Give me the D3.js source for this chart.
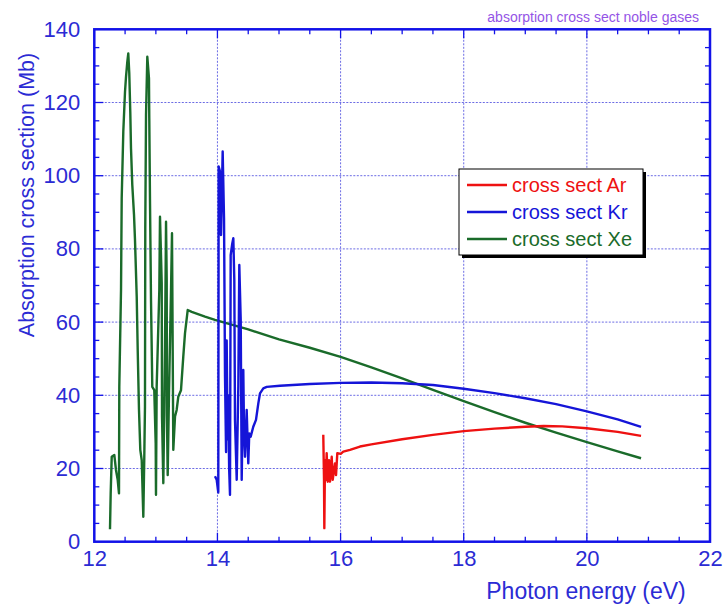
<!DOCTYPE html>
<html>
<head>
<meta charset="utf-8">
<script src="https://cdn.jsdelivr.net/npm/d3@7/dist/d3.min.js"></script>
<style>
  html, body { margin: 0; padding: 0; background: #ffffff; }
  svg { display: block; }
  text { font-family: "Liberation Sans", Arial, Helvetica, sans-serif; }
</style>
</head>
<body>
<svg id="chart" width="724" height="605"></svg>
<script>
// Photoabsorption cross sections of the noble gases (energy in eV, cross section in Mb)
const arEnergy = [15.719, 15.731, 15.736, 15.747, 15.763, 15.774, 15.791, 15.812, 15.828, 15.856,
  15.872, 15.909, 15.926, 15.947, 16.002, 16.044, 16.153, 16.315, 16.5, 17.0, 17.5, 18.0, 18.5,
  19.0, 19.3, 19.6, 20.0, 20.5, 20.88];
const arSigma = [29.2, 16.9, 3.7, 22.3, 16.9, 24.2, 16.4, 22.3, 16.4, 23.2,
  16.9, 21.4, 18.2, 24.2, 24.0, 24.6, 25.1, 26.0, 26.6, 28.0, 29.2, 30.2, 30.9,
  31.4, 31.6, 31.5, 31.0, 30.0, 28.9];

const krEnergy = [13.960, 13.988, 14.014, 14.020, 14.042, 14.058, 14.085, 14.107, 14.123, 14.140,
  14.150, 14.165, 14.176, 14.190, 14.204, 14.215, 14.241, 14.258, 14.274, 14.285, 14.313, 14.339,
  14.355, 14.378, 14.394, 14.420, 14.432, 14.448, 14.475, 14.501, 14.517, 14.540, 14.582, 14.626,
  14.664, 14.691, 14.745, 14.800, 15.016, 15.5, 16.0, 16.5, 17.0, 17.5, 18.0, 18.5, 19.0, 19.5,
  20.0, 20.5, 20.88];
const krSigma = [17.9, 16.9, 13.4, 102.5, 101.1, 83.8, 106.6, 88.4, 45.1, 24.5,
  55.0, 28.0, 40.0, 20.0, 12.8, 78.3, 81.5, 82.9, 71.5, 33.3, 16.9, 42.3,
  75.6, 60.6, 16.9, 46.9, 30.0, 23.2, 36.0, 21.4, 29.6, 28.7, 31.4, 33.3,
  37.8, 40.5, 41.9, 42.3, 42.6, 43.1, 43.4, 43.5, 43.3, 42.8, 41.8, 40.6, 39.2, 37.6,
  35.6, 33.4, 31.4];

const xeEnergy = [12.255, 12.266, 12.283, 12.325, 12.352, 12.380, 12.401, 12.406, 12.434, 12.445,
  12.471, 12.499, 12.515, 12.536, 12.552, 12.568, 12.585, 12.596, 12.617, 12.645, 12.661, 12.689,
  12.705, 12.726, 12.747, 12.770, 12.796, 12.812, 12.823, 12.828, 12.840, 12.861, 12.888, 12.893,
  12.905, 12.921, 12.942, 12.974, 12.997, 13.002, 13.013, 13.056, 13.067, 13.095, 13.100, 13.121,
  13.148, 13.165, 13.176, 13.180, 13.192, 13.213, 13.246, 13.262, 13.283, 13.311, 13.338, 13.364,
  13.408, 13.445, 13.473, 13.517, 13.582, 13.798, 13.960, 14.5, 15.0, 15.5, 16.0, 16.5, 17.0,
  17.5, 18.0, 18.5, 19.0, 19.5, 20.0, 20.5, 20.88];
const xeSigma = [3.4, 13.2, 23.2, 23.7, 19.6, 16.9, 13.2, 42.3, 68.8, 93.8,
  112.0, 123.0, 127.0, 131.1, 133.4, 128.0, 117.0, 107.5, 97.5, 89.3, 82.4, 66.9,
  52.4, 36.0, 25.1, 22.3, 6.8, 23.2, 36.9, 85.6, 116.6, 132.5, 126.6, 115.7,
  92.5, 66.0, 42.3, 41.4, 26.9, 12.8, 42.3, 68.8, 88.8, 70.6, 34.2, 16.0,
  52.4, 87.4, 71.5, 34.2, 18.2, 40.5, 68.8, 84.3, 25.1, 34.2, 36.0, 39.6,
  41.4, 50.5, 56.9, 63.3, 62.8, 61.5, 60.6, 58.0, 55.3, 53.0, 50.5, 47.6, 44.6,
  41.5, 38.4, 35.4, 32.5, 29.8, 27.2, 24.7, 22.8];

const seriesNames = ["cross sect Ar", "cross sect Kr", "cross sect Xe"];
const seriesColors = ["#ee1111", "#1515d8", "#1a6b2a"];

const xTickValues = [12, 14, 16, 18, 20, 22];
const yTickValues = [0, 20, 40, 60, 80, 100, 120, 140];

const chartTitle = "absorption cross sect noble gases";
const xAxisTitle = "Photon energy (eV)";
const yAxisTitle = "Absorption cross section (Mb)";

// ---- layout ----
const svg = d3.select("#chart");
const plotLeft = 94.3, plotTop = 29.3, plotRight = 710, plotBottom = 541.7;
const axisBlue = "#1212e8";
const textBlue = "#2b2bd4";

const x = d3.scaleLinear().domain([12, 22]).range([plotLeft, plotRight]);
const y = d3.scaleLinear().domain([0, 140]).range([plotBottom, plotTop]);

// grid
const grid = svg.append("g").attr("stroke", "#3b3bdc").attr("stroke-width", 1)
  .attr("stroke-dasharray", "2,1.5").attr("opacity", 0.75);
xTickValues.filter(v => v > 12 && v < 22).forEach(v => {
  grid.append("line").attr("x1", x(v)).attr("x2", x(v)).attr("y1", plotTop).attr("y2", plotBottom);
});
yTickValues.filter(v => v > 0 && v < 140).forEach(v => {
  grid.append("line").attr("x1", plotLeft).attr("x2", plotRight).attr("y1", y(v)).attr("y2", y(v));
});

// inward ticks on all four sides
const xMinor = d3.range(12.5, 22, 0.5);
const yMinor = d3.range(5, 140, 5);
const ticks = svg.append("g").attr("stroke", axisBlue).attr("stroke-width", 1.3);
xMinor.forEach(v => {
  const len = (v % 2 === 0) ? 9 : 5;
  ticks.append("line").attr("x1", x(v)).attr("x2", x(v)).attr("y1", plotBottom).attr("y2", plotBottom - len);
  ticks.append("line").attr("x1", x(v)).attr("x2", x(v)).attr("y1", plotTop).attr("y2", plotTop + len);
});
yMinor.forEach(v => {
  const len = (v % 20 === 0) ? 9 : 5;
  ticks.append("line").attr("x1", plotLeft).attr("x2", plotLeft + len).attr("y1", y(v)).attr("y2", y(v));
  ticks.append("line").attr("x1", plotRight).attr("x2", plotRight - len).attr("y1", y(v)).attr("y2", y(v));
});

// data lines (Xe underneath, Ar on top)
const line = d3.line().x(d => x(d[0])).y(d => y(d[1]));
const series = [
  { pts: d3.zip(xeEnergy, xeSigma), color: seriesColors[2] },
  { pts: d3.zip(krEnergy, krSigma), color: seriesColors[1] },
  { pts: d3.zip(arEnergy, arSigma), color: seriesColors[0] }
];
series.forEach(s => {
  svg.append("path").datum(s.pts)
    .attr("fill", "none")
    .attr("stroke", s.color)
    .attr("stroke-width", 2.4)
    .attr("stroke-linejoin", "round")
    .attr("d", line);
});

// frame
svg.append("rect").attr("x", plotLeft).attr("y", plotTop)
  .attr("width", plotRight - plotLeft).attr("height", plotBottom - plotTop)
  .attr("fill", "none").attr("stroke", axisBlue).attr("stroke-width", 2.5);

// tick labels
const xAxisG = svg.append("g").attr("transform", `translate(0,${plotBottom})`)
  .call(d3.axisBottom(x).tickValues(xTickValues).tickSize(0).tickPadding(9).tickFormat(d3.format("d")));
xAxisG.select(".domain").remove();
xAxisG.selectAll("text").attr("fill", textBlue).attr("font-size", 22)
  .attr("font-family", "'Liberation Sans', Arial, sans-serif");

const yAxisG = svg.append("g").attr("transform", `translate(${plotLeft},0)`)
  .call(d3.axisLeft(y).tickValues(yTickValues).tickSize(0).tickPadding(14).tickFormat(d3.format("d")));
yAxisG.select(".domain").remove();
yAxisG.selectAll("text").attr("fill", textBlue).attr("font-size", 22)
  .attr("font-family", "'Liberation Sans', Arial, sans-serif");

// titles
svg.append("text").attr("x", 699).attr("y", 22).attr("text-anchor", "end")
  .attr("font-size", 14).attr("fill", "#9454e6").text(chartTitle);
svg.append("text").attr("x", 586).attr("y", 599).attr("text-anchor", "middle")
  .attr("font-size", 23).attr("fill", textBlue).text(xAxisTitle);
svg.append("text").attr("transform", "translate(34,195) rotate(-90)").attr("text-anchor", "middle")
  .attr("font-size", 21.5).attr("fill", textBlue).text(yAxisTitle);

// legend
const lg = svg.append("g");
const lx = 459, ly = 169, lw = 184, lh = 86;
lg.append("rect").attr("x", lx + 3).attr("y", ly + 3).attr("width", lw).attr("height", lh).attr("fill", "#000");
lg.append("rect").attr("x", lx).attr("y", ly).attr("width", lw).attr("height", lh)
  .attr("fill", "#fff").attr("stroke", "#000").attr("stroke-width", 1);
seriesNames.forEach((name, i) => {
  const yy = 185 + i * 27;
  lg.append("line").attr("x1", 467).attr("x2", 507).attr("y1", yy).attr("y2", yy)
    .attr("stroke", seriesColors[i]).attr("stroke-width", 2.4);
  lg.append("text").attr("x", 512).attr("y", yy + 7).attr("font-size", 20)
    .attr("fill", seriesColors[i]).text(name);
});
</script>
</body>
</html>
